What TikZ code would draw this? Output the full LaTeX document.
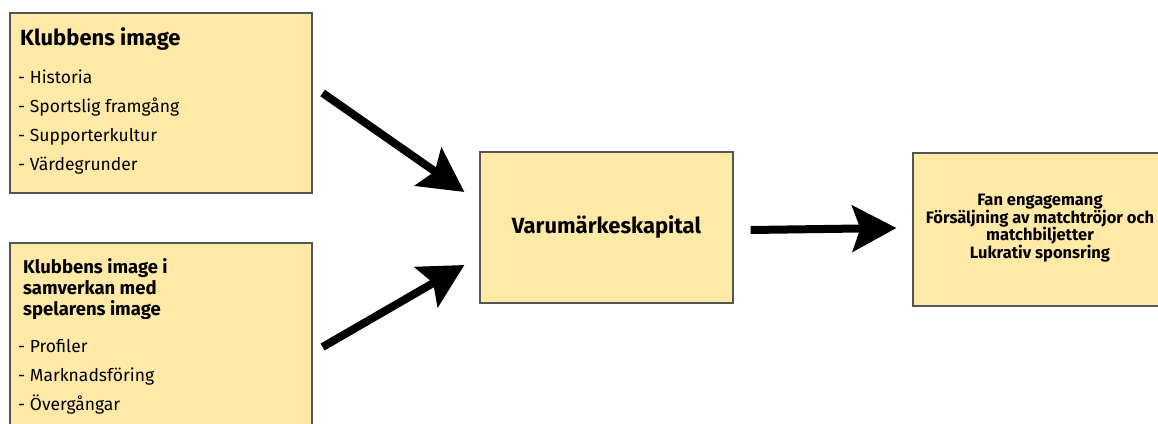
\documentclass[tikz,border=0pt]{standalone}
\usepackage{fontspec}
\setmainfont{Fira Sans}
\usetikzlibrary{arrows.meta,positioning}
\definecolor{boxfill}{RGB}{255,233,166}
\definecolor{boxline}{RGB}{85,85,85}
\tikzset{
  yellowbox/.style={draw=boxline, fill=boxfill, line width=1.2pt, inner sep=0pt},
  listitem/.style={anchor=west, inner sep=0pt, font=\fontsize{17.5}{20}\selectfont},
  bigarrow/.style={line width=8pt, -{Stealth[length=44pt,width=46pt,inset=8pt]}},
}
\begin{document}
\begin{tikzpicture}[x=1pt,y=-1pt]
  \useasboundingbox (0,0) rectangle (1158,423);
  \clip (0,0) rectangle (1158,423);
  % boxes
  \node[yellowbox, minimum width=302pt, minimum height=180pt] (image) at (161,103) {};
  \node[yellowbox, minimum width=302pt, minimum height=200pt] (samverkan) at (161,343) {};
  \node[yellowbox, minimum width=253pt, minimum height=151pt,
        font=\fontsize{22}{26}\selectfont\bfseries] (kapital) at (606.5,227.5) {Varumärkeskapital};
  \node[yellowbox, minimum width=264pt, minimum height=153pt] (effekt) at (1045,229.5) {};
  \node[align=center, inner sep=0pt, font=\fontsize{16.5}{17.5}\selectfont\bfseries] (effekttext) at (1040,228)
        {Fan engagemang\\Försäljning av matchtröjor och\\matchbiljetter\\Lukrativ sponsring};
  % texts in the left boxes
  \node[anchor=west, inner sep=0pt, font=\fontsize{22}{26}\selectfont\bfseries] (imagetitle) at (20,39) {Klubbens image};
  \node[listitem] (historia) at (18,77) {- Historia};
  \node[listitem] (framgang) at (18,107) {- Sportslig framgång};
  \node[listitem] (kultur) at (18,137) {- Supporterkultur};
  \node[listitem] (varden) at (18,166) {- Värdegrunder};
  \node[anchor=west, inner sep=0pt, align=left, font=\fontsize{18.5}{21}\selectfont\bfseries] (samverkantitle) at (23,289)
        {Klubbens image i\\samverkan med\\spelarens image};
  \node[listitem] (profiler) at (18,346) {- Profiler};
  \node[listitem] (marknad) at (18,377) {- Marknadsföring};
  \node[listitem] (overgang) at (18,405) {- Övergångar};
  % arrows
  \draw[bigarrow] ([shift={(10,-10)}]image.east) -- ([shift={(-15,-35.5)}]kapital.west);
  \draw[bigarrow] ([shift={(10,4)}]samverkan.east) -- ([shift={(-15,37.5)}]kapital.west);
  \draw[bigarrow] ([shift={(17,2.5)}]kapital.east) -- ([shift={(-16,-1.5)}]effekt.west);
\end{tikzpicture}
\end{document}
